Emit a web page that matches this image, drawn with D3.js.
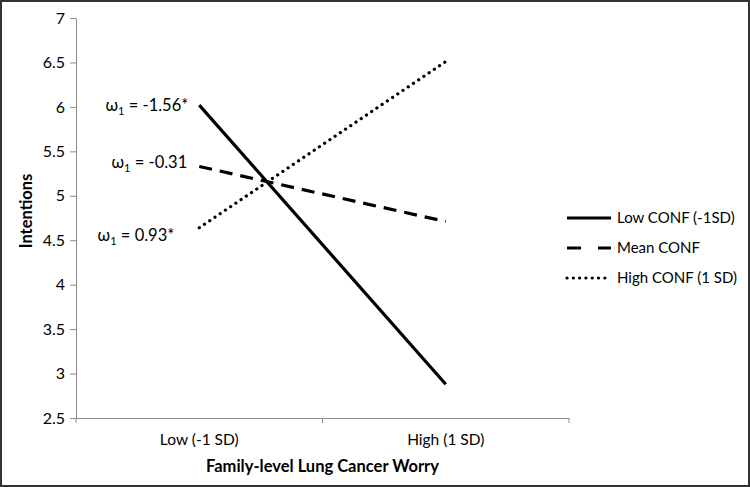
<!DOCTYPE html>
<html><head><meta charset="utf-8">
<script src="https://cdn.jsdelivr.net/npm/d3@7"></script>
<style>body{margin:0;background:#fff}svg{display:block}</style>
</head><body>
<script>
const categories = ["Low (-1 SD)", "High (1 SD)"];
const seriesNames = ["Low CONF (-1SD)", "Mean CONF", "High CONF (1 SD)"];
const lowConf = [6.02, 2.88];
const meanConf = [5.33, 4.71];
const highConf = [4.64, 6.51];
const slopeLabels = ["-1.56*", "-0.31", "0.93*"];
const yTicks = [2.5, 3, 3.5, 4, 4.5, 5, 5.5, 6, 6.5, 7];

const W = 750, H = 487;
const font = "Lato, 'Open Sans', sans-serif";
const svg = d3.select("body").append("svg").attr("width", W).attr("height", H);
svg.append("rect").attr("x", 1).attr("y", 1).attr("width", W - 2).attr("height", H - 2)
  .attr("fill", "#fff").attr("stroke", "#333").attr("stroke-width", 2);

const x0 = 76, x1 = 569, yTop = 18, yBot = 418;
const x = d3.scaleBand().domain(categories).range([x0, x1]);
const y = d3.scaleLinear().domain([2.5, 7]).range([yBot, yTop]);

const yAxis = svg.append("g").attr("transform", `translate(${x0},0)`)
  .call(d3.axisLeft(y).tickValues(yTicks).tickFormat(d3.format("")).tickSize(6).tickSizeOuter(0));
yAxis.select(".domain").attr("stroke", "#8c8c8c");
yAxis.selectAll(".tick line").attr("stroke", "#8c8c8c");
yAxis.selectAll(".tick text").attr("font-family", font).attr("font-size", 16).attr("fill", "#000").attr("x", -11);

const xAxis = svg.append("g").attr("transform", `translate(0,${yBot})`)
  .call(d3.axisBottom(x).tickSize(0).tickSizeOuter(0));
xAxis.select(".domain").attr("stroke", "#8c8c8c");
xAxis.selectAll(".tick text").attr("font-family", font).attr("font-size", 15.5).attr("fill", "#000").attr("dy", "1.55em");
const bounds = [x0, x0 + x.bandwidth(), x1];
svg.selectAll(".bt").data(bounds).enter().append("line")
  .attr("x1", d => d).attr("x2", d => d).attr("y1", yBot).attr("y2", yBot + 5)
  .attr("stroke", "#8c8c8c");

const cx = d => x(d) + x.bandwidth() / 2;
const styles = [
  {w: 3.2, dash: null, cap: "butt"},
  {w: 3.2, dash: "13,8", cap: "butt"},
  {w: 3.2, dash: "0.1,6.2", cap: "round"}
];
const data = [lowConf, meanConf, highConf];
const line = d3.line().x((d, i) => cx(categories[i])).y(d => y(d));
data.forEach((s, k) => {
  svg.append("path").datum(s).attr("d", line).attr("fill", "none").attr("stroke", "#000")
    .attr("stroke-width", styles[k].w).attr("stroke-dasharray", styles[k].dash)
    .attr("stroke-linecap", styles[k].cap);
});

// slope annotations (offsets relative to line start)
const annOff = [{dx: -11, dy: 6}, {dx: -12, dy: 2}, {dx: -25, dy: 13}];
data.forEach((s, k) => {
  const t = svg.append("text").attr("x", cx(categories[0]) + annOff[k].dx).attr("y", y(s[0]) + annOff[k].dy)
    .attr("text-anchor", "end").attr("font-family", font).attr("font-size", 16.5).attr("fill", "#000");
  t.append("tspan").text("ω");
  t.append("tspan").text("1").attr("font-size", 11).attr("dy", 4);
  t.append("tspan").text(" = " + slopeLabels[k]).attr("dy", -4);
});

// axis titles
svg.append("text").attr("transform", `translate(32,211) rotate(-90)`)
  .attr("text-anchor", "middle").attr("font-family", font).attr("font-size", 16.5)
  .attr("font-weight", "bold").text("Intentions");
svg.append("text").attr("x", (x0 + x1) / 2).attr("y", 472).attr("text-anchor", "middle")
  .attr("font-family", font).attr("font-size", 16.5).attr("font-weight", "bold")
  .text("Family-level Lung Cancer Worry");

// legend
const legY = [218, 248, 278];
seriesNames.forEach((n, k) => {
  svg.append("line").attr("x1", 567).attr("x2", 611).attr("y1", legY[k]).attr("y2", legY[k])
    .attr("stroke", "#000").attr("stroke-width", styles[k].w)
    .attr("stroke-dasharray", k === 1 ? "14,17" : styles[k].dash).attr("stroke-linecap", styles[k].cap);
  svg.append("text").attr("x", 617).attr("y", legY[k] + 5).attr("font-family", font)
    .attr("font-size", 15).attr("fill", "#000").text(n);
});
</script>
</body></html>
